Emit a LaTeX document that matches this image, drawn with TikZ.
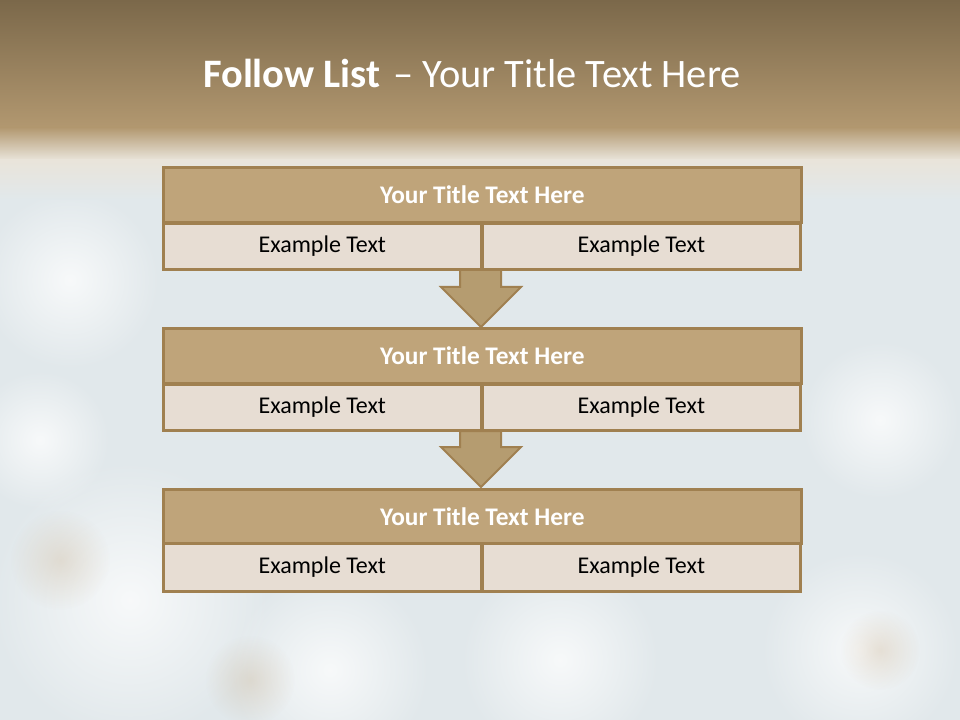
\documentclass[tikz,border=0pt]{standalone}
\usepackage{fontspec}
\setmainfont{Carlito}
\usetikzlibrary{fadings}
\tikzfading[name=softspot,inner color=transparent!0,outer color=transparent!100]
\definecolor{bandtop}{HTML}{7B684A}
\definecolor{bandmid}{HTML}{B29870}
\definecolor{fadecol}{HTML}{E9E4DA}
\definecolor{bgcol}{HTML}{E1E8EB}
\definecolor{titlefill}{HTML}{BFA47A}
\definecolor{cellfill}{HTML}{E7DDD3}
\definecolor{edgecol}{HTML}{A08050}
\definecolor{arrowfill}{HTML}{B59C70}
\definecolor{stain}{HTML}{C8AE8A}
\tikzset{
  px/.style={x=0.75pt,y=-0.75pt},
  titlebox/.style={draw=edgecol,line width=2pt,fill=titlefill,minimum width=478.5pt,minimum height=41.25pt,inner sep=0pt,anchor=north west,text=white,font=\fontsize{19}{22}\selectfont\bfseries},
  cellbox/.style={draw=edgecol,line width=2pt,fill=cellfill,minimum width=238.5pt,minimum height=34.5pt,inner sep=0pt,anchor=north west,text=black,font=\fontsize{18}{21}\selectfont},
  downarrow/.style={draw=edgecol,line width=1.5pt,fill=arrowfill,line join=miter},
  softwhite/.style={fill=white,fill opacity=0.75,path fading=softspot},
  softstain/.style={fill=stain,fill opacity=0.3,path fading=softspot}
}
\begin{document}
\begin{tikzpicture}[px]
\useasboundingbox (0,0) rectangle (960,720);
\fill[bgcol] (0,0) rectangle (960,720);
% soft grunge texture (approximate)
\fill[softwhite] (70,280) circle (90);
\fill[softwhite] (130,600) circle (140);
\fill[softwhite] (330,670) circle (100);
\fill[softwhite] (560,660) circle (100);
\fill[softwhite] (880,420) circle (80);
\fill[softwhite] (860,650) circle (100);
\fill[softwhite] (40,440) circle (70);
\fill[softstain] (60,560) circle (50);
\fill[softstain] (250,680) circle (45);
\fill[softstain] (880,650) circle (40);
% header band
\shade[top color=bandtop,bottom color=bandmid] (0,0) rectangle (960,128);
\shade[top color=bandmid,bottom color=fadecol] (0,127.5) rectangle (960,160);
\shade[top color=fadecol,bottom color=bgcol] (0,159.5) rectangle (960,200);
\node[text=white,font=\fontsize{30.3}{36}\selectfont,anchor=base] (maintitle) at (472,88) {\textbf{Follow List}\hspace{0.32em}– Your Title Text Here};
% arrows (behind boxes)
\draw[downarrow] (460,270) -- (501,270) -- (501,287) -- (521,287) -- (481,327) -- (441,287) -- (460,287) -- cycle;
\draw[downarrow] (460,431) -- (501,431) -- (501,447) -- (521,447) -- (481,487) -- (441,447) -- (460,447) -- cycle;
% box 1
\node[titlebox] (t1) at (162,166) {Your Title Text Here};
\node[cellbox] (c1a) at (162,222) {Example Text};
\node[cellbox] (c1b) at (481,222) {Example Text};
% box 2
\node[titlebox] (t2) at (162,327) {Your Title Text Here};
\node[cellbox] (c2a) at (162,383) {Example Text};
\node[cellbox] (c2b) at (481,383) {Example Text};
% box 3
\node[titlebox,minimum height=40.5pt] (t3) at (162,488) {Your Title Text Here};
\node[cellbox,minimum height=36pt] (c3a) at (162,542) {Example Text};
\node[cellbox,minimum height=36pt] (c3b) at (481,542) {Example Text};
\end{tikzpicture}
\end{document}
